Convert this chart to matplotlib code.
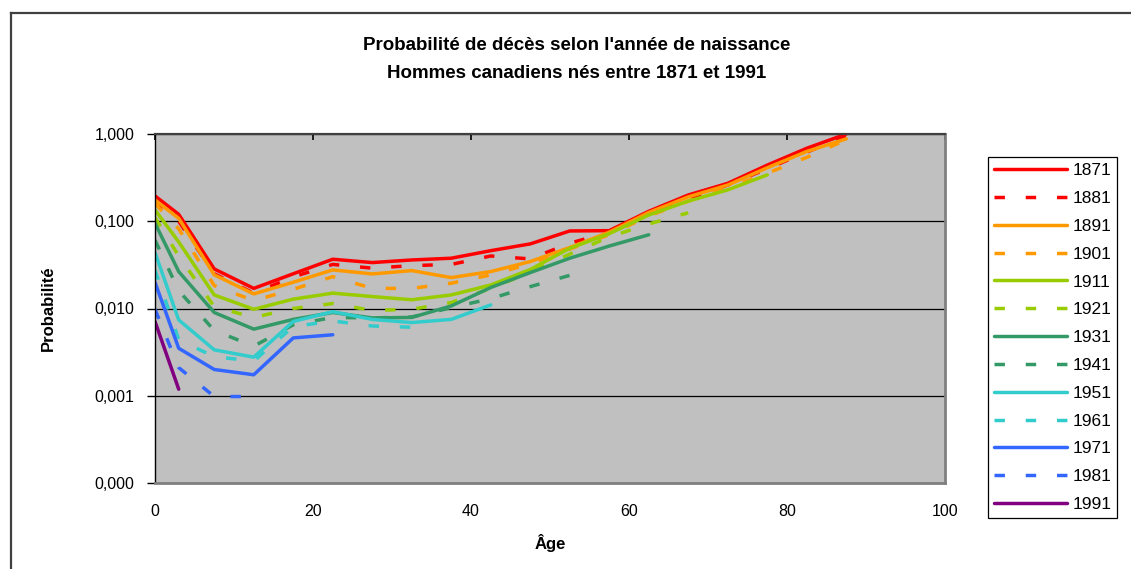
import numpy as np
import matplotlib
matplotlib.use("Agg")
import matplotlib.pyplot as plt
from matplotlib.lines import Line2D
from matplotlib.ticker import FixedLocator, FuncFormatter, NullLocator

plt.rcParams['font.family'] = ['Liberation Sans', 'DejaVu Sans']

# Âges (milieu des groupes d'âge)
ages = [0, 3, 7.5, 12.5, 17.5, 22.5, 27.5, 32.5, 37.5, 42.5, 47.5,
        52.5, 57.5, 62.5, 67.5, 72.5, 77.5, 82.5, 87.5]

cohortes = ['1871', '1881', '1891', '1901', '1911', '1921', '1931',
            '1941', '1951', '1961', '1971', '1981', '1991']

# Probabilités de décès par cohorte
p1871 = [0.195, 0.12, 0.0284, 0.017, 0.025, 0.0367, 0.0336, 0.036, 0.0377, 0.046,
         0.055, 0.0774, 0.078, 0.13, 0.2, 0.272, 0.44, 0.686, 1.0]
p1881 = [0.17, 0.1, 0.025, 0.015, 0.023, 0.032, 0.029, 0.031, 0.032, 0.040,
         0.037, 0.056, 0.075, 0.12, 0.18, 0.26, 0.40, 0.62, 0.95]
p1891 = [0.175, 0.108, 0.0243, 0.0147, 0.02, 0.0277, 0.0249, 0.0272, 0.0226, 0.0265,
         0.0345, 0.050, 0.075, 0.126, 0.19, 0.26, 0.41, 0.63, 0.88]
p1901 = [0.16, 0.082, 0.0183, 0.0123, 0.0166, 0.0232, 0.017, 0.017, 0.0195, 0.0243,
         0.0325, 0.048, 0.07, 0.115, 0.17, 0.24, 0.355, 0.54, 0.86]
p1911 = [0.135, 0.058, 0.0143, 0.0098, 0.0128, 0.015, 0.0137, 0.0126, 0.0143, 0.0186,
         0.028, 0.049, 0.072, 0.118, 0.17, 0.229, 0.34]
p1921 = [0.11, 0.04, 0.0105, 0.0079, 0.0100, 0.0114, 0.0095, 0.0098, 0.0117, 0.017,
         0.026, 0.042, 0.066, 0.093, 0.125]
p1931 = [0.095, 0.0265, 0.009, 0.0058, 0.0075, 0.009, 0.0078, 0.0079, 0.0107, 0.0174,
         0.0258, 0.0377, 0.052, 0.07]
p1941 = [0.061, 0.016, 0.0056, 0.0037, 0.0065, 0.0079, 0.0078, 0.008, 0.0102, 0.013,
         0.0178, 0.024]
p1951 = [0.0437, 0.0074, 0.00336, 0.00277, 0.0071, 0.0092, 0.0075, 0.0069, 0.0075, 0.011]
p1961 = [0.0277, 0.0044, 0.0028, 0.0025, 0.0062, 0.0072, 0.0063, 0.0061]
p1971 = [0.02, 0.0035, 0.002, 0.00174, 0.0046, 0.005]
p1981 = [0.0098, 0.0021, 0.00098, 0.00098]
p1991 = [0.0071, 0.00119]

series = [p1871, p1881, p1891, p1901, p1911, p1921, p1931,
          p1941, p1951, p1961, p1971, p1981, p1991]
couleurs = ['#FF0000', '#FF0000', '#FF9900', '#FF9900', '#99CC00', '#99CC00',
            '#339966', '#339966', '#33CCCC', '#33CCCC', '#3366FF', '#3366FF', '#800080']
tirets = [False, True, False, True, False, True, False, True, False, True, False, True, False]

fig = plt.figure(figsize=(11.31, 5.69), dpi=100)
ax = fig.add_axes([155 / 1131, 1 - 483 / 569, 790 / 1131, 349 / 569])
ax.set_facecolor('#C0C0C0')

lw = 2.5
for nom, vals, c, d in zip(cohortes, series, couleurs, tirets):
    style = (0, (3.0, 6.0)) if d else '-'
    ax.plot(ages[:len(vals)], vals, color=c, lw=lw, linestyle=style,
            solid_capstyle='round', label=nom)

ax.set_yscale('log')
ax.set_ylim(1e-4, 1)
ax.set_xlim(0, 100)
ax.yaxis.set_major_locator(FixedLocator([1e-4, 1e-3, 1e-2, 1e-1, 1]))
ax.yaxis.set_minor_locator(NullLocator())
ax.yaxis.set_major_formatter(FuncFormatter(lambda v, p: f"{v:.3f}".replace('.', ',')))
ax.set_xticks([0, 20, 40, 60, 80, 100])
ax.grid(axis='y', color='black', lw=0.9)
ax.set_axisbelow(True)

ax.tick_params(axis='y', direction='out', length=6, width=1, pad=9, labelsize=11.5)
ax.tick_params(axis='x', bottom=False, top=True, direction='in', length=4, width=1.2,
               labelbottom=True, pad=15, labelsize=11.5)

ax.spines['left'].set_color('black')
ax.spines['left'].set_linewidth(1)
ax.spines['top'].set_color('#404040')
ax.spines['top'].set_linewidth(1.6)
ax.spines['bottom'].set_color('#808080')
ax.spines['bottom'].set_linewidth(2)
ax.spines['right'].set_color('#808080')
ax.spines['right'].set_linewidth(2)

ax.set_xlabel('Âge', fontsize=12, fontweight='bold')
ax.xaxis.set_label_coords(0.5, -0.172)
ax.xaxis.label.set_va('center')
ax.set_ylabel('Probabilité', fontsize=12, fontweight='bold')
ax.yaxis.set_label_coords(-0.135, 0.5)
ax.yaxis.label.set_va('center')

fig.text(0.51, 1 - 45 / 569, "Probabilité de décès selon l'année de naissance",
         ha='center', va='center', fontsize=13.5, fontweight='bold')
fig.text(0.51, 1 - 73 / 569, "Hommes canadiens nés entre 1871 et 1991",
         ha='center', va='center', fontsize=13.5, fontweight='bold')

leg = fig.legend(loc='upper left', bbox_to_anchor=(988 / 1131, 1 - 157 / 569),
                 borderaxespad=0, fontsize=12.5, handlelength=4.2, handletextpad=0.3,
                 labelspacing=0.73, borderpad=0.35, fancybox=False, framealpha=1,
                 edgecolor='black')
leg.get_frame().set_linewidth(0.9)

# cadre extérieur du graphique
fig.add_artist(Line2D([11 / 1131, 11 / 1131], [0, 1 - 13 / 569], transform=fig.transFigure,
                      color='#404040', lw=1.6))
fig.add_artist(Line2D([11 / 1131, 1], [1 - 13 / 569, 1 - 13 / 569], transform=fig.transFigure,
                      color='#404040', lw=1.6))

fig.savefig('out.png', dpi=100)
